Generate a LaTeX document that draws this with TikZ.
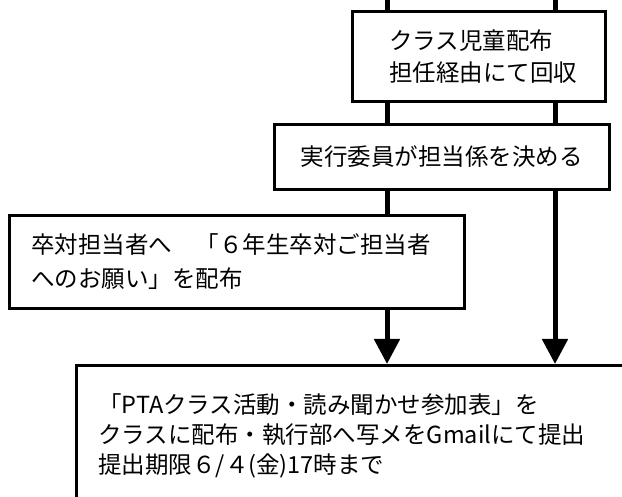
\documentclass[tikz,border=0pt]{standalone}
\usepackage{fontspec}
\setmainfont{Noto Sans CJK JP}
\usetikzlibrary{arrows.meta}
\begin{document}
\begin{tikzpicture}[x=1pt,y=1pt,
  box/.style={draw, line width=2.6pt, fill=white, inner sep=0pt},
  conn/.style={line width=5pt},
  arr/.style={line width=5pt, -{Triangle[width=25pt,length=25pt]}}]
\useasboundingbox (0,0) rectangle (622,-497);
\clip (0,0) rectangle (622,-497);
\node[box, anchor=north west, minimum width=253pt, minimum height=90pt,
      text width=179pt, inner xsep=37pt, align=left,
      font=\fontsize{23.5}{32}\selectfont] (top) at (351,-10)
  {クラス児童配布\\担任経由にて回収};
\node[box, anchor=north west, minimum width=335pt, minimum height=65pt,
      font=\fontsize{23.5}{32}\selectfont] (mid) at (273,-123)
  {実行委員が担当係を決める};
\node[box, anchor=north west, minimum height=93pt,
      text width=411pt, inner xsep=22pt, align=left,
      font=\fontsize{23.5}{34}\selectfont] (left) at (8,-214)
  {卒対担当者へ　「６年生卒対ご担当者\\へのお願い」を配布};
\node[box, anchor=north west, minimum height=142pt,
      text width=600pt, inner xsep=22pt, align=left,
      font=\fontsize{23.5}{30}\selectfont] (bot) at (75,-364)
  {「PTAクラス活動・読み聞かせ参加表」を\\クラスに配布・執行部へ写メをGmailにて提出\\提出期限６/４(金)17時まで};
\coordinate (ta) at (387,2);
\coordinate (tb) at (555,2);
\draw[conn] (ta) -- (ta |- top.north);
\draw[conn] (tb) -- (tb |- top.north);
\draw[conn] (ta |- top.south) -- (ta |- mid.north);
\draw[conn] (tb |- top.south) -- (tb |- mid.north);
\draw[conn] (ta |- mid.south) -- (ta |- left.north);
\draw[arr] (ta |- left.south) -- (ta |- bot.north);
\draw[arr] (tb |- mid.south) -- (tb |- bot.north);
\end{tikzpicture}
\end{document}
